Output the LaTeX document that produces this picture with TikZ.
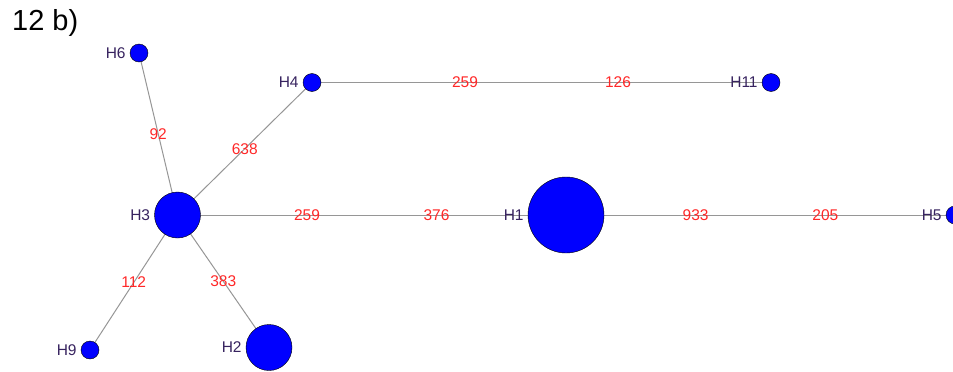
\documentclass[tikz,border=0pt]{standalone}
\usepackage{fontspec}
\setmainfont{Liberation Sans}
\definecolor{edgegray}{RGB}{150,150,150}
\definecolor{labred}{RGB}{255,40,40}
\definecolor{hapname}{RGB}{55,35,95}
\usetikzlibrary{backgrounds}

\begin{document}
\begin{tikzpicture}[
  x=1pt, y=-1pt,
  hap/.style={circle, draw=black, fill=blue, inner sep=0pt, minimum size=#1},
  hap/.default=18pt,
  hlab/.style={text=hapname, inner sep=0pt, font=\fontsize{15.5}{18}\selectfont},
  elab/.style={text=labred, inner sep=0pt, font=\fontsize{15.5}{18}\selectfont},
  edge/.style={draw=edgegray, line width=1pt},
  label distance=4pt
]
\useasboundingbox (0,0) rectangle (953,372);

\node[anchor=base west, inner sep=0pt, font=\fontsize{29}{34}\selectfont] (title) at (12,30) {12 b)};

\node[hap, label={[hlab]left:H6}] (H6) at (139,53) {};
\node[hap, label={[hlab]left:H4}] (H4) at (312,82.5) {};
\node[hap, label={[hlab]left:H11}] (H11) at (771,82.5) {};
\node[hap=46pt, label={[hlab]left:H3}] (H3) at (177.5,215) {};
\node[hap=76pt, label={[hlab]left:H1}] (H1) at (566,215) {};
\node[hap, label={[hlab]left:H5}] (H5) at (955,215) {};
\node[hap, label={[hlab]left:H9}] (H9) at (90,350) {};
\node[hap=46pt, label={[hlab]left:H2}] (H2) at (269,347.5) {};

\begin{scope}[on background layer]
\draw[edge] (H4.center) -- node[elab, pos=1/3] {259} node[elab, pos=2/3] {126} (H11.center);
\draw[edge] (H3.center) -- node[elab, pos=1/3] {259} node[elab, pos=2/3] {376} (H1.center);
\draw[edge] (H1.center) -- node[elab, pos=1/3] {933} node[elab, pos=2/3] {205} (H5.center);
\draw[edge] (H6.center) -- node[elab] {92} (H3.center);
\draw[edge] (H3.center) -- node[elab] {638} (H4.center);
\draw[edge] (H3.center) -- node[elab] {112} (H9.center);
\draw[edge] (H3.center) -- node[elab] {383} (H2.center);
\end{scope}

\end{tikzpicture}
\end{document}
